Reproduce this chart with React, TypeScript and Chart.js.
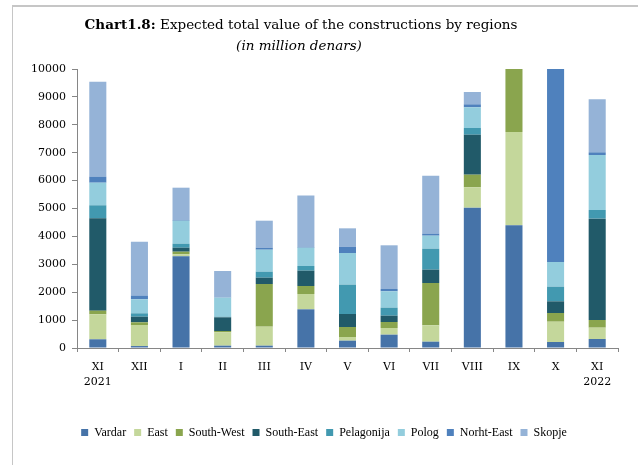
import React, { useEffect, useRef } from "react";
import { Chart, registerables } from "chart.js";

Chart.register(...registerables);

const categories: (string | string[])[] = [["XI", "2021"], "XII", "I", "II", "III", "IV", "V", "VI", "VII", "VIII", "IX", "X", ["XI", "2022"]];

const vardar = [312, 70, 3286, 84, 84, 1386, 263, 478, 227, 5029, 4398, 215, 323];
const east = [896, 754, 71, 478, 681, 549, 131, 239, 585, 731, 3344, 728, 406];
const southWest = [129, 97, 95, 47, 1529, 287, 359, 215, 1518, 452, 2300, 311, 275];
const southEast = [3312, 201, 143, 490, 227, 550, 466, 227, 478, 1433, 0, 419, 3632];
const pelagonija = [466, 121, 144, 23, 215, 167, 1051, 287, 751, 240, 0, 525, 310];
const polog = [810, 502, 824, 681, 787, 656, 1135, 585, 467, 742, 0, 884, 1972];
const northEast = [215, 131, 25, 10, 72, 20, 226, 84, 71, 107, 0, 7000, 96];
const skopje = [3405, 1934, 1158, 946, 968, 1853, 658, 1566, 2079, 442, 0, 0, 1900];

const seriesNames = ["Vardar", "East", "South-West", "South-East", "Pelagonija", "Polog", "Norht-East", "Skopje"];
const seriesColors = ["#4673A8", "#C4D79B", "#8AA54E", "#215A69", "#4299B0", "#93CDDD", "#4F81BD", "#95B3D7"];
const seriesValues = [vardar, east, southWest, southEast, pelagonija, polog, northEast, skopje];

const titleBold = "Chart1.8:";
const titleRest = " Expected total value of the constructions by regions";
const subtitle = "(in million denars)";

const LIB = '"Liberation Serif", "Times New Roman", serif';
const DJV = '"DejaVu Serif", serif';

export default function App() {
  const ref = useRef<HTMLCanvasElement | null>(null);

  useEffect(() => {
    if (!ref.current) return;
    const titlePlugin = {
      id: "customTitle",
      afterDraw(chart: any) {
        const ctx = chart.ctx as CanvasRenderingContext2D;
        ctx.save();
        ctx.fillStyle = "#000";
        ctx.textBaseline = "middle";
        ctx.textAlign = "left";
        ctx.font = `bold 13.5px ${DJV}`;
        const wb = ctx.measureText(titleBold).width;
        ctx.font = `13.5px ${DJV}`;
        const wr = ctx.measureText(titleRest).width;
        const cx = 301;
        const x0 = cx - (wb + wr) / 2;
        ctx.font = `bold 13.5px ${DJV}`;
        ctx.fillText(titleBold, x0, 25);
        ctx.font = `13.5px ${DJV}`;
        ctx.fillText(titleRest, x0 + wb, 25);
        ctx.font = `italic 13.5px ${DJV}`;
        ctx.textAlign = "center";
        ctx.fillText(subtitle, 299, 46);
        ctx.restore();
      },
    };

    const chart = new Chart(ref.current, {
      type: "bar",
      data: {
        labels: categories,
        datasets: seriesNames.map((name, i) => ({
          label: name,
          data: seriesValues[i],
          backgroundColor: seriesColors[i],
          borderWidth: 0,
          barPercentage: 0.41,
          categoryPercentage: 1,
        })),
      },
      options: {
        responsive: false,
        animation: false,
        layout: { padding: { left: 30, right: 20, top: 69, bottom: 16.5 } },
        plugins: {
          legend: {
            position: "bottom",
            labels: {
              boxWidth: 7,
              boxHeight: 7,
              padding: 8,
              color: "#000",
              font: { family: LIB, size: 12 },
            },
          },
          tooltip: { enabled: false },
        },
        scales: {
          x: {
            stacked: true,
            grid: { display: true, drawOnChartArea: false, drawTicks: true, tickLength: 4, offset: true, color: "#868686" },
            border: { display: true, color: "#868686" },
            ticks: {
              color: "#000",
              font: { family: DJV, size: 11, lineHeight: 1.4 },
              maxRotation: 0,
              autoSkip: false,
              padding: 7,
            },
            afterFit(scale: any) {
              scale.height = 70.5;
            },
          },
          y: {
            stacked: true,
            min: 0,
            max: 10000,
            grid: { display: true, drawOnChartArea: false, drawTicks: true, tickLength: 5, color: "#868686" },
            border: { display: true, color: "#868686" },
            ticks: {
              stepSize: 1000,
              color: "#000",
              font: { family: DJV, size: 11 },
              padding: 6,
              callback: (v: any) => String(v),
            },
            afterFit(scale: any) {
              scale.width = 47;
            },
          },
        },
      },
      plugins: [titlePlugin],
    });
    return () => chart.destroy();
  }, []);

  return (
    <div style={{ position: "absolute", left: 0, top: 0, width: 638, height: 465, background: "#fff", overflow: "hidden" }}>
      <div
        style={{
          position: "absolute",
          left: 12,
          top: 5,
          width: 700,
          height: 500,
          borderTop: "2px solid #c6c6c6",
          borderLeft: "1px solid #c6c6c6",
        }}
      />
      <canvas ref={ref} width={638} height={465} style={{ position: "absolute", left: 0, top: 0 }} />
    </div>
  );
}
